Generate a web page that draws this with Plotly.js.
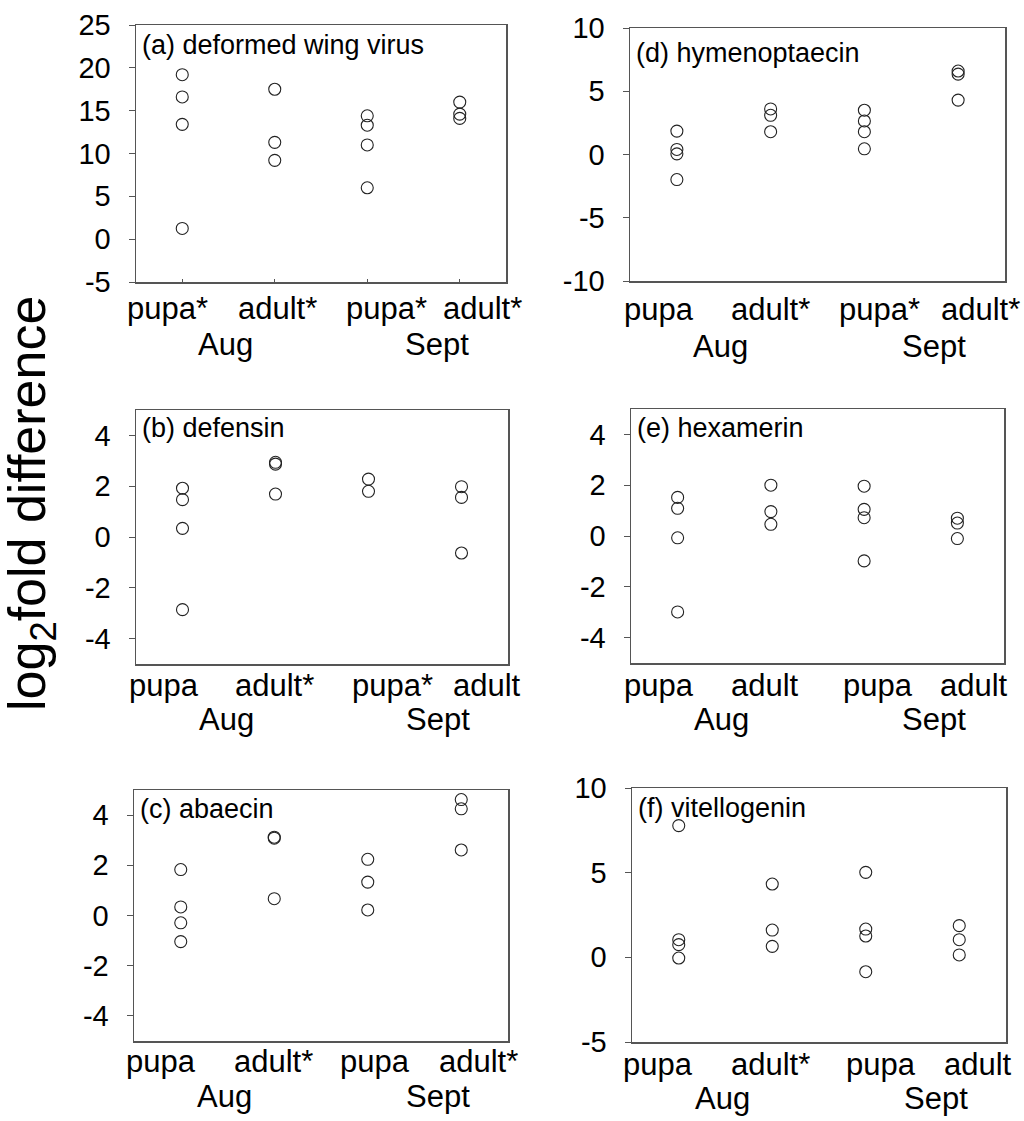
<!DOCTYPE html>
<html>
<head>
<meta charset="utf-8">
<script src="https://cdn.plot.ly/plotly-3.0.1.min.js"></script>
<style>
  html, body { margin: 0; padding: 0; background: #fff; }
  #chart { width: 1024px; height: 1121px; }
</style>
</head>
<body>
<div id="chart"></div>
<script>
// groups on the x axis of every panel
const groups = ['Aug pupa', 'Aug adult', 'Sept pupa', 'Sept adult'];
const months = ['Aug', 'Sept'];

// tick labels per panel (* = significant)
const ticksA = ['pupa*', 'adult*', 'pupa*', 'adult*'];
const ticksB = ['pupa', 'adult*', 'pupa*', 'adult'];
const ticksC = ['pupa', 'adult*', 'pupa', 'adult*'];
const ticksD = ['pupa', 'adult*', 'pupa*', 'adult*'];
const ticksE = ['pupa', 'adult', 'pupa', 'adult'];
const ticksF = ['pupa', 'adult*', 'pupa', 'adult'];

// y tick values per panel
const yTicks25 = [-5, 0, 5, 10, 15, 20, 25];
const yTicks10 = [-10, -5, 0, 5, 10];
const yTicks4 = [-4, -2, 0, 2, 4];
const yTicksF = [-5, 0, 5, 10];

// log2 fold difference, one list per group (Aug pupa, Aug adult, Sept pupa, Sept adult)
const dwv = [[19.2, 16.6, 13.4, 1.25], [17.5, 11.3, 9.2], [14.4, 13.3, 11.0, 6.0], [16.0, 14.6, 14.1]];
const defensin = [[1.92, 1.47, 0.34, -2.86], [2.94, 2.87, 1.69], [2.28, 1.80], [1.98, 1.56, -0.63]];
const abaecin = [[1.83, 0.34, -0.29, -1.04], [3.12, 3.08, 0.67], [2.24, 1.33, 0.22], [4.62, 4.25, 2.61]];
const hymenoptaecin = [[1.85, 0.4, 0.05, -1.98], [3.6, 3.1, 1.8], [3.5, 2.65, 1.8, 0.45], [6.6, 6.35, 4.3]];
const hexamerin = [[1.52, 1.09, -0.07, -2.99], [2.0, 0.96, 0.46], [1.96, 1.05, 0.72, -0.98], [0.70, 0.51, -0.10]];
const vitellogenin = [[7.78, 1.04, 0.75, -0.04], [4.33, 1.61, 0.65], [5.02, 1.67, 1.26, -0.85], [1.87, 1.04, 0.14]];

const W = 1024, H = 1121;
const FONT = 'Liberation Sans, Arial, sans-serif';

// box = [left, right, top, bottom] in px; shifts/dy nudge the hand-placed labels
const panels = [
  { label: '(a) deformed wing virus', values: dwv, ticks: ticksA, range: [-5, 25], yt: yTicks25, box: [136, 506, 25, 282], labelDy: 3, shifts: [-15, 3, 19, 23], catDy: 8, monthDy: 44, xticks: true },
  { label: '(b) defensin', values: defensin, ticks: ticksB, range: [-5, 5], yt: yTicks4, box: [136, 508, 410, 664], labelDy: 1, shifts: [-19, -1, 24, 25], catDy: 3, monthDy: 37 },
  { label: '(c) abaecin', values: abaecin, ticks: ticksC, range: [-5, 5], yt: yTicks4, box: [134, 508, 790, 1041], labelDy: 2, shifts: [-20, -1, 7, 17], catDy: 2, monthDy: 37 },
  { label: '(d) hymenoptaecin', values: hymenoptaecin, ticks: ticksD, range: [-10, 10], yt: yTicks10, box: [630, 1005, 28, 281], labelDy: 8, shifts: [-18, 0, 15, 22], catDy: 10, monthDy: 47 },
  { label: '(e) hexamerin', values: hexamerin, ticks: ticksE, range: [-5, 5], yt: yTicks4, box: [631, 1004, 409, 663], labelDy: 2, shifts: [-19, -6, 14, 17], catDy: 4, monthDy: 38 },
  { label: '(f) vitellogenin', values: vitellogenin, ticks: ticksF, range: [-5, 10], yt: yTicksF, box: [632, 1006, 788, 1042], labelDy: 3, shifts: [-21, -2, 15, 19], catDy: 4, monthDy: 38 }
];
const monthShifts = [-3, 23];

const data = [];
const layout = {
  width: W, height: H,
  margin: { l: 0, r: 0, t: 0, b: 0 },
  paper_bgcolor: '#fff', plot_bgcolor: '#fff',
  showlegend: false,
  font: { family: FONT, color: '#000' },
  annotations: []
};

panels.forEach((p, i) => {
  const n = i === 0 ? '' : String(i + 1);
  const xs = [], ys = [];
  p.values.forEach((vals, g) => vals.forEach(v => { xs.push(groups[g]); ys.push(v); }));

  data.push({
    type: 'scatter', mode: 'markers',
    x: xs, y: ys, xaxis: 'x' + n, yaxis: 'y' + n,
    marker: { symbol: 'circle-open', size: 12, color: '#222', line: { width: 1.1, color: '#222' } },
    hoverinfo: 'skip'
  });

  const [x0, x1, y0, y1] = p.box;
  layout['xaxis' + n] = {
    domain: [x0 / W, x1 / W],
    anchor: 'y' + n,
    type: 'category',
    categoryorder: 'array', categoryarray: groups,
    range: [-0.5, 3.5],
    tickvals: groups, showticklabels: false,
    ticks: p.xticks ? 'inside' : '', ticklen: 3, tickcolor: '#555',
    showline: true, linecolor: '#555', linewidth: 1.5, mirror: true,
    showgrid: false, zeroline: false, fixedrange: true
  };
  layout['yaxis' + n] = {
    domain: [1 - y1 / H, 1 - y0 / H],
    anchor: 'x' + n,
    range: p.range,
    tickvals: p.yt,
    ticktext: p.yt.map(v => String(v)),   // plain hyphen minus like the original
    ticks: 'outside', ticklen: 6, tickcolor: '#555',
    ticklabelstandoff: 12,
    tickfont: { family: FONT, size: 29, color: '#000' },
    showline: true, linecolor: '#555', linewidth: 1.5, mirror: true,
    showgrid: false, zeroline: false, fixedrange: true
  };

  // panel label inside the top-left corner
  layout.annotations.push({
    text: p.label, xref: 'x' + n + ' domain', yref: 'y' + n + ' domain',
    x: 0, y: 1, xanchor: 'left', yanchor: 'top', xshift: 4, yshift: -p.labelDy,
    showarrow: false, font: { family: FONT, size: 27, color: '#000' }
  });
  // group labels below the axis
  p.ticks.forEach((t, g) => {
    layout.annotations.push({
      text: t, xref: 'x' + n, yref: 'y' + n + ' domain',
      x: groups[g], y: 0, xanchor: 'center', yanchor: 'top', xshift: p.shifts[g], yshift: -p.catDy,
      showarrow: false, borderpad: 0, font: { family: FONT, size: 31, color: '#000' }
    });
  });
  // month under each pair of groups
  months.forEach((m, k) => {
    layout.annotations.push({
      text: m, xref: 'x' + n, yref: 'y' + n + ' domain',
      x: 0.5 + 2 * k, y: 0, xanchor: 'center', yanchor: 'top', xshift: monthShifts[k], yshift: -p.monthDy,
      showarrow: false, borderpad: 0, font: { family: FONT, size: 31, color: '#000' }
    });
  });
});

// shared y axis title
layout.annotations.push({
  text: 'log<sub>2</sub>fold difference', xref: 'paper', yref: 'paper',
  x: 31 / W, y: 1 - 504 / H, xanchor: 'center', yanchor: 'middle', textangle: -90,
  showarrow: false, borderpad: 0, font: { family: FONT, size: 52, color: '#000' }
});

Plotly.newPlot('chart', data, layout, { staticPlot: true, displayModeBar: false });
</script>
</body>
</html>
